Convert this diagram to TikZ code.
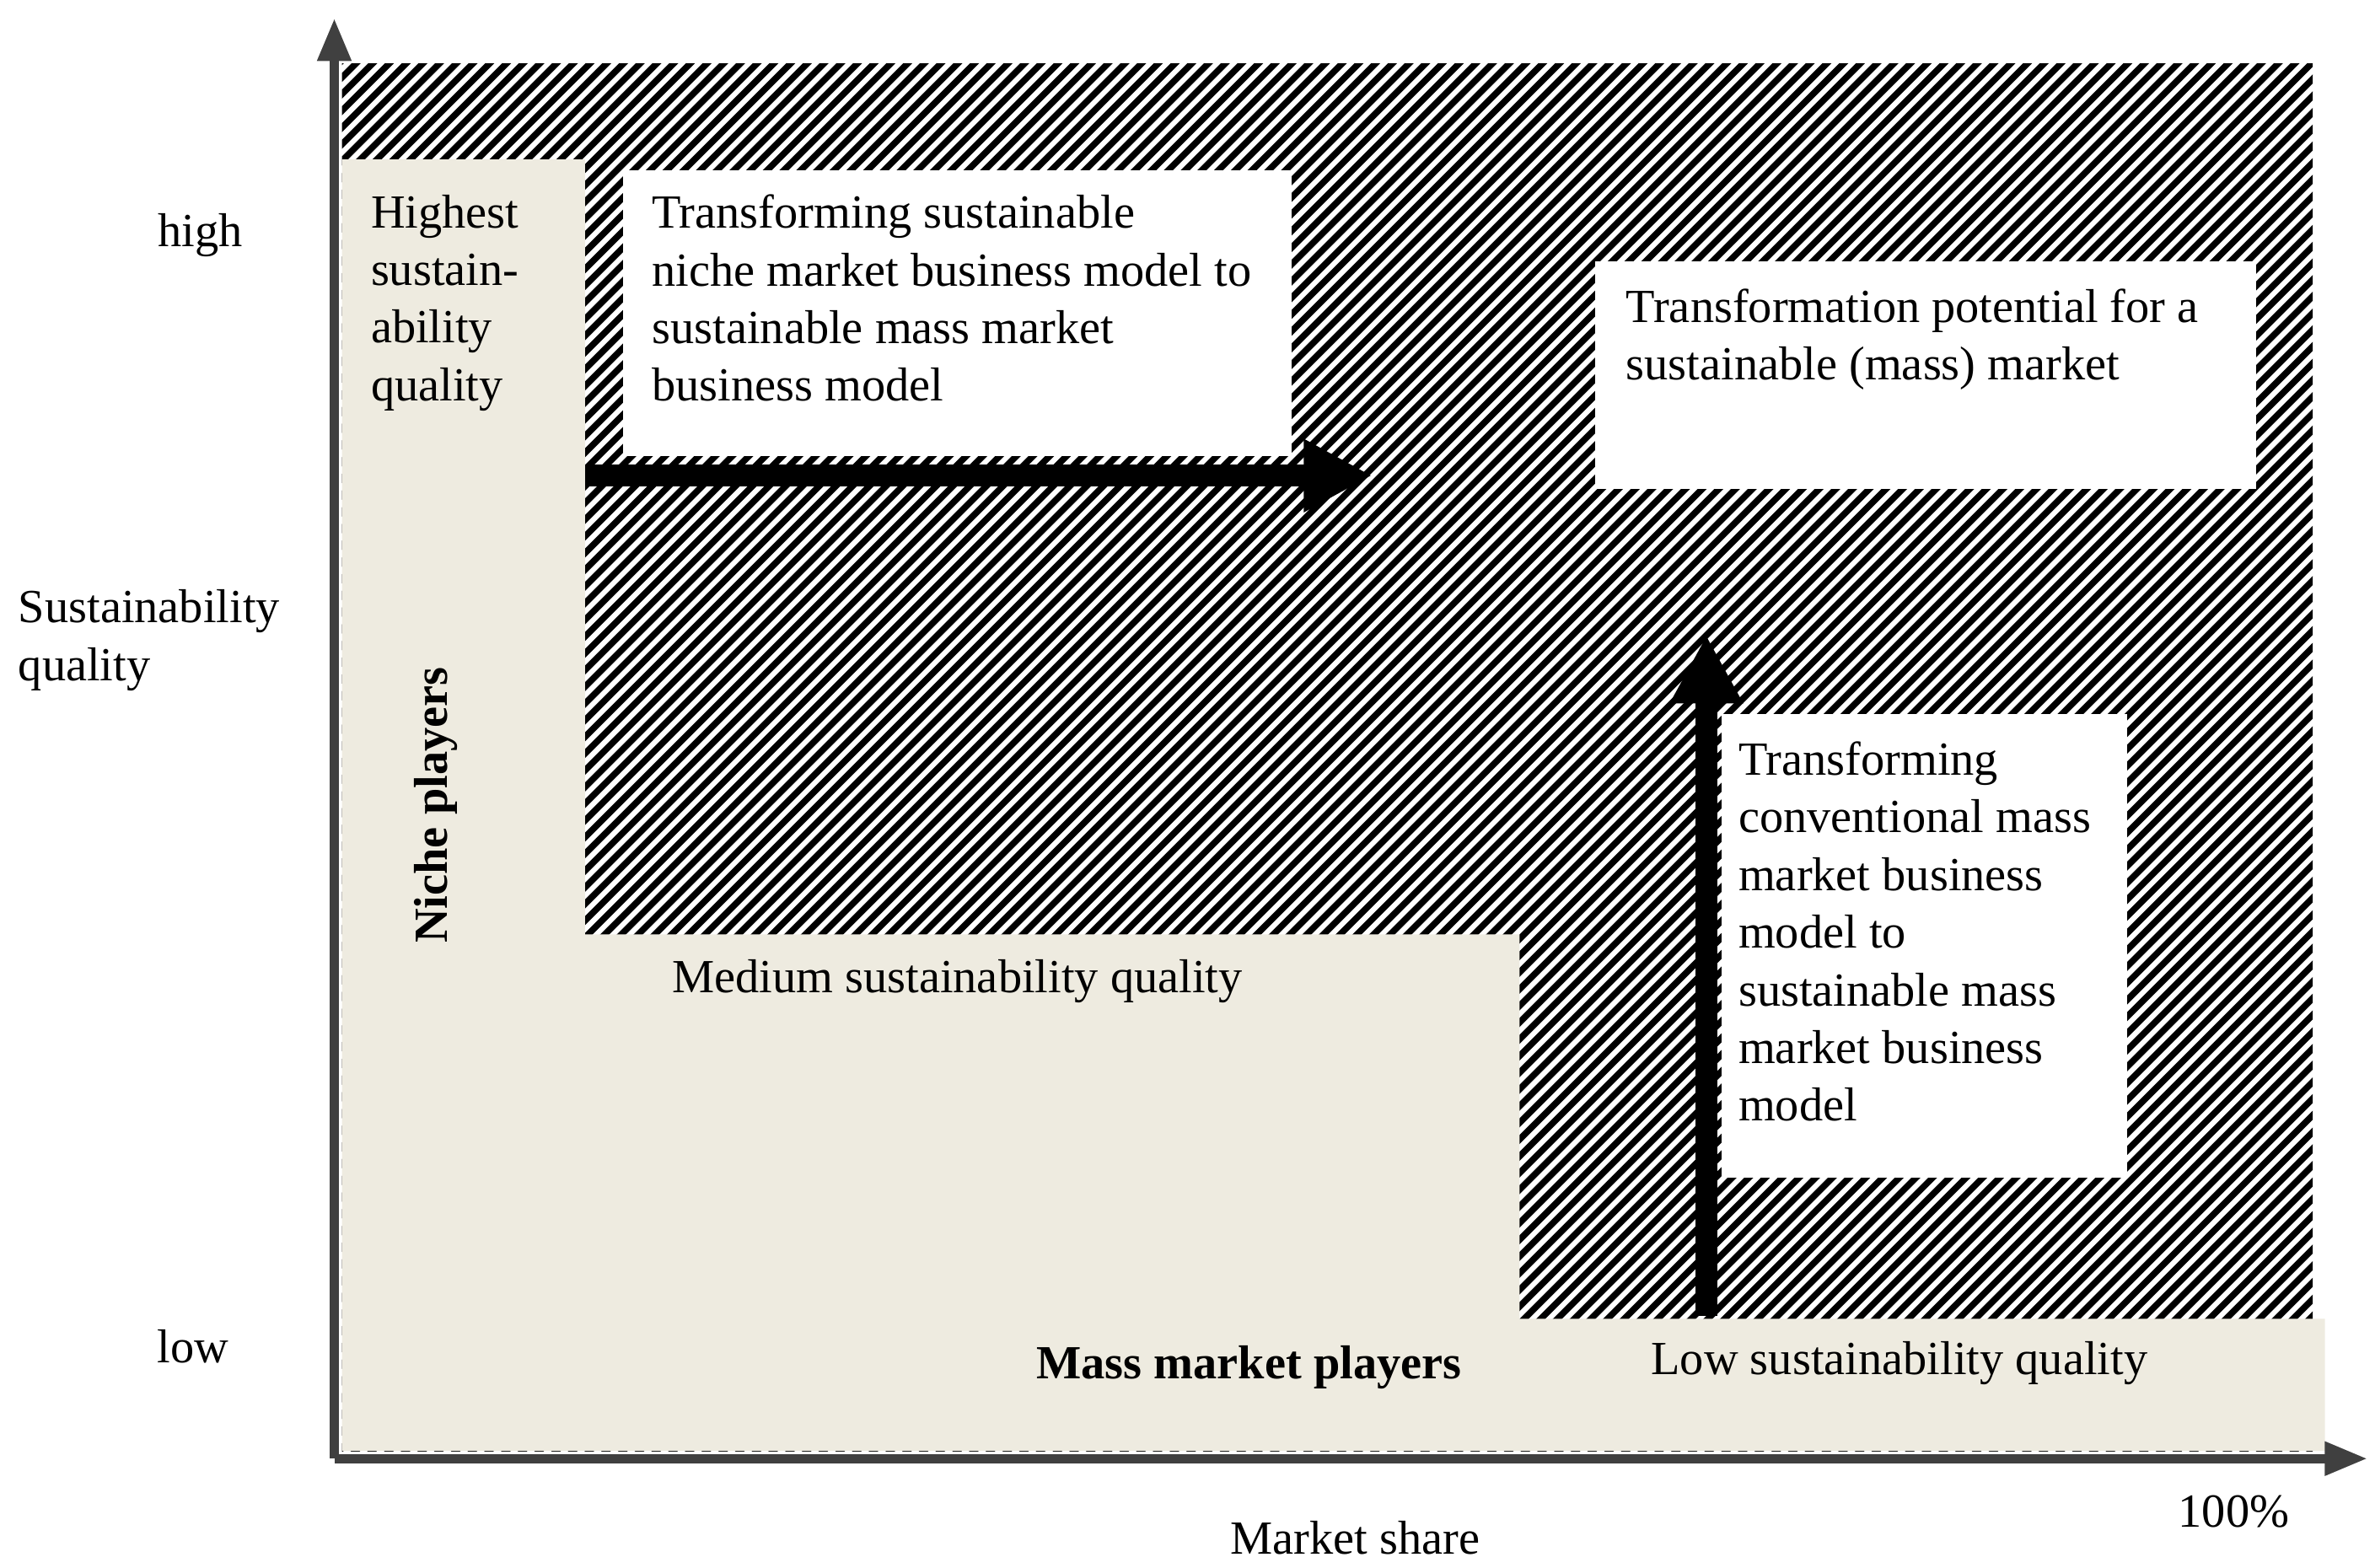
\documentclass[tikz,border=0pt]{standalone}
\usepackage{fontspec}
\setmainfont{Liberation Serif}
\usetikzlibrary{arrows.meta}
\definecolor{beige}{HTML}{EEEBE0}
\definecolor{axis}{HTML}{404040}
\begin{document}
\begin{tikzpicture}[x=0.05cm,y=-0.05cm,
  txt/.style={font=\fontsize{44.5}{54}\selectfont,inner sep=0pt},
  ax/.style={axis,line width=8.5pt,-{Triangle[length=40pt,width=30pt]}},
  big/.style={black,line width=20pt,-{Triangle[length=64pt,width=64pt]}}]
\useasboundingbox (0,0) rectangle (1563,1032);
% hatched area
\begin{scope}
\clip (225,42) rectangle (1522,955);
\foreach \i in {-1000,-989,...,1600} \draw[line width=6pt] (\i,1100) -- (\i+1100,0);
\end{scope}
% beige L
\fill[beige] (225,105) -- (385,105) -- (385,615) -- (1000,615) -- (1000,868) -- (1530,868) -- (1530,955) -- (225,955) -- cycle;
% white boxes
\fill[white] (410,112) rectangle (850,300);
\fill[white] (1050,172) rectangle (1485,322);
\fill[white] (1133,470) rectangle (1400,775);
% axes
\coordinate (o) at (220,960);
\coordinate (ytop) at (220,12);
\coordinate (xend) at (1558,960);
\draw[ax] (o) -- (ytop);
\draw[ax] (o) -- (xend);
% arrows
\coordinate (a1s) at (385,313);
\coordinate (a1e) at (903,313);
\coordinate (a2s) at (1123,866);
\coordinate (a2e) at (1123,418);
\draw[big] (a1s) -- (a1e);
\draw[big] (a2s) -- (a2e);
% texts
\node[txt] (high) at (132,155) {high};
\node[txt] (low) at (127,886) {low};
\node[txt,anchor=north west,align=left] (sq) at (12,388) {Sustainability\\quality};
\node[txt] (ms) at (892,1012) {Market share};
\node[txt] (pc) at (1470,995) {100\%};
\node[txt,font=\fontsize{44.5}{54}\selectfont\bfseries,rotate=90] (np) at (287,530) {Niche players};
\node[txt,font=\fontsize{44.5}{54}\selectfont\bfseries] (mmp) at (822,900) {Mass market players};
\node[txt] (med) at (630,646) {Medium sustainability quality};
\node[txt] (lowq) at (1250,897) {Low sustainability quality};
\node[txt,anchor=north west,align=left] (hq) at (244,128) {Highest\\sustain-\\ability\\quality};
\node[txt,anchor=north west,align=left] (t1) at (429,128) {Transforming sustainable\\niche market business model to\\sustainable mass market\\business model};
\node[txt,anchor=north west,align=left] (t2) at (1070,190) {Transformation potential for a\\sustainable (mass) market};
\node[txt,anchor=north west,align=left] (t3) at (1144,488) {Transforming\\conventional mass\\market business\\model to\\sustainable mass\\market business\\model};
\end{tikzpicture}
\end{document}
